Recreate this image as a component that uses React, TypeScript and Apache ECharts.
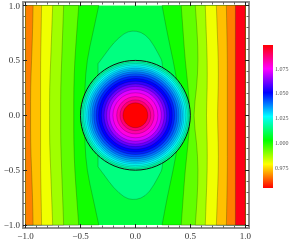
import React, { useEffect, useRef } from "react";
import * as echarts from "echarts";

// Contour abscissae read at these heights (upper half; the plot mirrors about y = 0)
const contourHeights = [1, 0.75, 0.5, 0.25, 0];
const leftContours = [
  { color: "#10ff00", xs: [-0.333, -0.387, -0.442, -0.461, -0.461] },
  { color: "#60ff00", xs: [-0.516, -0.534, -0.552, -0.561, -0.561] },
  { color: "#a0ff00", xs: [-0.653, -0.662, -0.671, -0.68, -0.68] },
  { color: "#f0ff00", xs: [-0.753, -0.762, -0.771, -0.781, -0.781] },
  { color: "#ffc000", xs: [-0.854, -0.858, -0.863, -0.863, -0.863] },
  { color: "#ff8000", xs: [-0.931, -0.936, -0.945, -0.954, -0.954] },
];
const rightContours = [
  { color: "#10ff00", xs: [0.243, 0.289, 0.344, 0.389, 0.43] },
  { color: "#60ff00", xs: [0.417, 0.435, 0.453, 0.481, 0.499] },
  { color: "#a0ff00", xs: [0.545, 0.563, 0.572, 0.558, 0.526] },
  { color: "#f0ff00", xs: [0.636, 0.645, 0.654, 0.654, 0.645] },
  { color: "#ffc000", xs: [0.737, 0.746, 0.755, 0.755, 0.746] },
  { color: "#ff8000", xs: [0.828, 0.833, 0.837, 0.837, 0.837] },
  { color: "#ff0018", xs: [0.91, 0.91, 0.91, 0.91, 0.91] },
];
const middleColor = "#00ff40";
const lobeColor = "#00ff80";
const lobeUpper: [number, number][] = [
  [-0.34, 0.47], [-0.28, 0.55], [-0.2, 0.66], [-0.1, 0.75], [-0.03, 0.77],
  [0.05, 0.76], [0.13, 0.7], [0.21, 0.56], [0.26, 0.46],
];
const ringRadii = [0.5, 0.486, 0.472, 0.458, 0.443, 0.428, 0.413, 0.396, 0.378, 0.357, 0.335, 0.31, 0.285, 0.262, 0.235, 0.205, 0.17, 0.14, 0.113];
const ringColors = [
  "#00ff90", "#00ffb0", "#00ffd8", "#00fff8", "#00e0ff", "#00c0ff", "#00a0ff", "#0078ff",
  "#0050ff", "#0020ff", "#0000ff", "#3000ff", "#6800ff", "#a000ff", "#e000ff", "#ff00e0",
  "#ff00a8", "#ff0070", "#ff0000",
];
const majorTicks = [-1, -0.5, 0, 0.5, 1];
const minorTicks = [-0.9, -0.8, -0.7, -0.6, -0.4, -0.3, -0.2, -0.1, 0.1, 0.2, 0.3, 0.4, 0.6, 0.7, 0.8, 0.9];
const legendTicks = [0.975, 1.0, 1.025, 1.05, 1.075];
const legendMin = 0.9545;
const legendMax = 1.099;
const legendStops = ["#ff0000", "#ffff00", "#00ff00", "#00ffff", "#0000ff", "#ff00ff", "#ff0000"];

const SERIF = "'Liberation Serif', serif";
const FRAME = "#8c8c8c";

// Closed shape: an open run of points, smoothed through midpoints, then closed through its end points.
const ContourShape = (echarts.graphic as any).extendShape({
  type: "contourRegion",
  shape: { pts: [], tail: [] },
  buildPath(ctx: any, shape: any) {
    const p = shape.pts as number[][];
    if (!p.length) return;
    const t = shape.tail as number[][];
    if (t.length) {
      ctx.moveTo(t[0][0], t[0][1]);
      ctx.lineTo(p[0][0], p[0][1]);
    } else {
      ctx.moveTo(p[0][0], p[0][1]);
    }
    for (let i = 1; i < p.length - 1; i++) {
      ctx.quadraticCurveTo(p[i][0], p[i][1], (p[i][0] + p[i + 1][0]) / 2, (p[i][1] + p[i + 1][1]) / 2);
    }
    ctx.lineTo(p[p.length - 1][0], p[p.length - 1][1]);
    for (let i = 1; i < t.length; i++) ctx.lineTo(t[i][0], t[i][1]);
    ctx.closePath();
  },
});
(echarts.graphic as any).registerShape("contourRegion", ContourShape);

const fullHeights = [...contourHeights, ...contourHeights.slice(0, -1).reverse().map((h) => -h)];
const mirrorXs = (xs: number[]) => [...xs, ...xs.slice(0, -1).reverse()];

const lineStyle = { stroke: "rgba(20,60,0,0.4)", lineWidth: 0.7 };

const bandShape = (api: any, c: { color: string; xs: number[] }, edge: number) => ({
  type: "contourRegion",
  shape: {
    pts: mirrorXs(c.xs).map((x, i) => api.coord([x, fullHeights[i]])),
    tail: [api.coord([edge, 1]), api.coord([edge, -1])],
  },
  style: { fill: c.color, ...lineStyle },
});

const renderBands = (_: any, api: any) => {
  const children: any[] = [];
  const tl = api.coord([-1, 1]);
  const br = api.coord([1, -1]);
  children.push({
    type: "rect",
    shape: { x: tl[0], y: tl[1], width: br[0] - tl[0], height: br[1] - tl[1] },
    style: { fill: middleColor },
  });
  leftContours.forEach((c) => children.push(bandShape(api, c, -1)));
  rightContours.forEach((c) => children.push(bandShape(api, c, 1)));
  const upper = lobeUpper.map((p) => api.coord(p));
  const lower = [...lobeUpper].reverse().map(([x, y]) => api.coord([x, -y]));
  children.push({ type: "contourRegion", shape: { pts: [...upper, ...lower], tail: [] }, style: { fill: lobeColor, ...lineStyle } });
  return { type: "group", children };
};

const renderRing = (params: any, api: any) => {
  const r = ringRadii[params.dataIndex];
  const c = api.coord([0, 0]);
  const e = api.coord([r, r]);
  return {
    type: "ellipse",
    shape: { cx: c[0], cy: c[1], rx: e[0] - c[0], ry: c[1] - e[1] },
    style: {
      fill: ringColors[params.dataIndex],
      stroke: params.dataIndex === 0 ? "#111" : "rgba(0,0,40,0.4)",
      lineWidth: params.dataIndex === 0 ? 1 : 0.5,
    },
  };
};

const renderBar = (_: any, api: any) => {
  const a = api.coord([0, legendMax]);
  const b = api.coord([1, legendMin]);
  return {
    type: "rect",
    shape: { x: a[0], y: a[1], width: b[0] - a[0], height: b[1] - a[1] },
    style: {
      fill: new echarts.graphic.LinearGradient(0, 1, 0, 0,
        legendStops.map((color, i) => ({ offset: i / (legendStops.length - 1), color }))),
    },
  };
};

const X_MIN = -1.023, X_MAX = 1.034, Y_MIN = -1.027, Y_MAX = 1.032;
const fmt = (v: number) => (v < 0 ? "\u2212" : "") + Math.abs(v).toFixed(1);

const frameAxis = (position: string, values: number[], major: boolean, labels: boolean, range: number[]) => ({
  type: "value",
  gridIndex: 0,
  position,
  min: range[0],
  max: range[1],
  splitLine: { show: false },
  axisLine: { show: major, onZero: false, lineStyle: { color: FRAME, width: 2 } },
  axisTick: {
    show: true,
    inside: true,
    length: major ? 4 : 2.5,
    customValues: values,
    lineStyle: { color: major ? "#222" : "#666", width: 1 },
  },
  axisLabel: labels
    ? {
        show: true,
        customValues: values,
        formatter: fmt,
        fontFamily: SERIF,
        fontSize: 9,
        color: "#333",
        margin: 3,
        hideOverlap: false,
        showMinLabel: true,
        showMaxLabel: true,
      }
    : { show: false },
});

export default function App() {
  const ref = useRef<HTMLDivElement>(null);
  useEffect(() => {
    const chart = echarts.init(ref.current!, null, { renderer: "svg", width: 297, height: 243 });
    const xr = [X_MIN, X_MAX];
    const yr = [Y_MIN, Y_MAX];
    chart.setOption({
      animation: false,
      backgroundColor: "#fff",
      grid: [
        { left: 23, top: 2, width: 226, height: 226 },
        { left: 263, top: 45, width: 10, height: 143 },
      ],
      xAxis: [
        frameAxis("bottom", majorTicks, true, true, xr),
        frameAxis("bottom", minorTicks, false, false, xr),
        frameAxis("top", majorTicks, true, false, xr),
        frameAxis("top", minorTicks, false, false, xr),
        { type: "value", gridIndex: 1, min: 0, max: 1, show: false },
      ],
      yAxis: [
        frameAxis("left", majorTicks, true, true, yr),
        frameAxis("left", minorTicks, false, false, yr),
        frameAxis("right", majorTicks, true, false, yr),
        frameAxis("right", minorTicks, false, false, yr),
        {
          type: "value",
          gridIndex: 1,
          position: "right",
          min: legendMin,
          max: legendMax,
          splitLine: { show: false },
          axisLine: { show: false },
          axisTick: { show: true, length: 3, customValues: legendTicks, lineStyle: { color: "#aaa", width: 1 } },
          axisLabel: {
            show: true,
            customValues: legendTicks,
            formatter: (v: number) => v.toFixed(3),
            fontFamily: SERIF,
            fontSize: 6,
            color: "#555",
            margin: 2,
          },
        },
      ],
      series: [
        { type: "custom", xAxisIndex: 0, yAxisIndex: 0, silent: true, clip: false, z: -2, renderItem: renderBands, data: [[0, 0]] },
        { type: "custom", xAxisIndex: 0, yAxisIndex: 0, silent: true, clip: false, z: -1, renderItem: renderRing, data: ringRadii.map((r) => [0, r]) },
        { type: "custom", xAxisIndex: 4, yAxisIndex: 4, silent: true, clip: false, renderItem: renderBar, data: [[0, legendMin]] },
      ],
    });
    return () => chart.dispose();
  }, []);
  return (
    <div
      ref={ref}
      style={{ position: "fixed", left: 0, top: 0, width: 297, height: 243, filter: "blur(0.35px)" }}
    />
  );
}
